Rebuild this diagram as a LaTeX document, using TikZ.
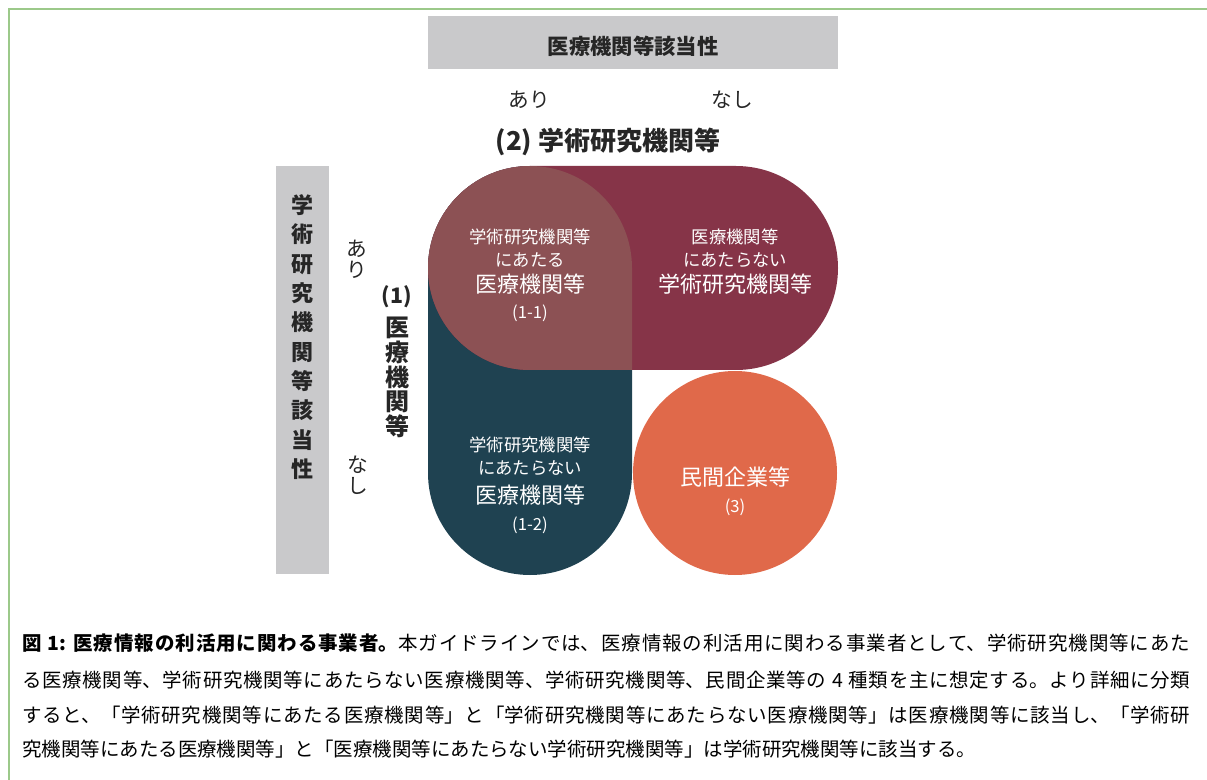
\documentclass[tikz,border=0pt]{standalone}
\usepackage{fontspec}
\setmainfont{Noto Sans CJK JP}
\XeTeXlinebreaklocale "ja"
\XeTeXlinebreakskip=0pt plus 3pt

\definecolor{framegreen}{HTML}{9CC98A}
\definecolor{barg}{HTML}{C9C9CB}
\definecolor{labk}{HTML}{262626}
\definecolor{medteal}{HTML}{1F4251}
\definecolor{acadred}{HTML}{863448}
\definecolor{bothred}{HTML}{8C5154}
\definecolor{privor}{HTML}{E0694A}

\newcommand{\capline}[1]{\parbox{876pt}{\parfillskip=0pt\spaceskip=0.3em\relax\noindent #1}}

\begin{document}
\begin{tikzpicture}[x=0.75pt,y=-0.75pt,
  lbl/.style={text=labk, inner sep=0pt, align=center},
  inw/.style={text=white, inner sep=0pt, align=center},
  smallw/.style={inw, font=\fontsize{13}{13}\selectfont},
  bigw/.style={inw, font=\fontsize{16.5}{16.5}\selectfont},
  numw/.style={inw, font=\fontsize{12.5}{12.5}\selectfont},
  capt/.style={anchor=west, inner sep=0pt, font=\fontsize{14.6}{14.6}\selectfont}]

\useasboundingbox (0,0) rectangle (1207,780);

% frame
\draw[framegreen, line width=1.5pt] (8.5,780) -- (8.5,9.5) -- (1207,9.5);

% column header
\fill[barg] (428,16) rectangle (838,69);
\node[lbl, font=\fontsize{16}{16}\selectfont\bfseries] (colhead) at (633,46) {医療機関等該当性};
\node[lbl, font=\fontsize{15.5}{15.5}\selectfont] (colyes) at (529,100) {あり};
\node[lbl, font=\fontsize{15.5}{15.5}\selectfont] (colno) at (732,100) {なし};
\node[lbl, font=\fontsize{19.5}{19.5}\selectfont\bfseries] (acad) at (608,142) {(2) 学術研究機関等};

% row header
\fill[barg] (276,166) rectangle (329,574);
\node[lbl, font=\fontsize{16.5}{22}\selectfont\bfseries] (rowhead) at (302,337)
  {学\\術\\研\\究\\機\\関\\等\\該\\当\\性};
\node[lbl, font=\fontsize{15.5}{15.75}\selectfont] (rowyes) at (357,259.5) {あ\\り};
\node[lbl, font=\fontsize{15.5}{15.75}\selectfont] (rowno) at (358,475.5) {な\\し};
\node[lbl, font=\fontsize{16}{16}\selectfont\bfseries] (medno) at (397,297) {(1)};
\node[lbl, font=\fontsize{18}{18.6}\selectfont\bfseries] (med) at (397,377.5)
  {医\\療\\機\\関\\等};

% shapes
\fill[medteal, rounded corners=76.5pt] (428,166) rectangle (632,575);
\fill[acadred, rounded corners=76.5pt] (428,166) rectangle (838,370);
\begin{scope}
  \clip[rounded corners=76.5pt] (428,166) rectangle (838,370);
  \fill[bothred, rounded corners=76.5pt] (428,166) rectangle (632,575);
\end{scope}
\node[circle, fill=privor, minimum size=153pt, inner sep=0pt] (priv) at (735,473) {};

% (1-1)
\node[smallw] (both1) at (530,237) {学術研究機関等};
\node[smallw] (both2) at (530,260) {にあたる};
\node[bigw] (both3) at (530,284) {医療機関等};
\node[numw] (both4) at (530,313) {(1-1)};
% academic only
\node[smallw] (acad1) at (735,237) {医療機関等};
\node[smallw] (acad2) at (735,260) {にあたらない};
\node[bigw] (acad3) at (735,284) {学術研究機関等};
% (1-2)
\node[smallw] (med1) at (530,445) {学術研究機関等};
\node[smallw] (med2) at (530,468) {にあたらない};
\node[bigw] (med3) at (530,495) {医療機関等};
\node[numw] (med4) at (530,525) {(1-2)};
% (3)
\node[bigw] (priv1) at (735,477) {民間企業等};
\node[numw] (priv2) at (735,507) {(3)};

% caption
\node[capt] (cap1) at (22,643) {\capline{{\bfseries 図 1: 医療情報の利活用に関わる事業者。}本ガイドラインでは、医療情報の利活用に関わる事業者として、学術研究機関等にあた}};
\node[capt] (cap2) at (22,680) {\capline{る医療機関等、学術研究機関等にあたらない医療機関等、学術研究機関等、民間企業等の 4 種類を主に想定する。より詳細に分類}};
\node[capt] (cap3) at (22,715) {\capline{すると、「学術研究機関等にあたる医療機関等」と「学術研究機関等にあたらない医療機関等」は医療機関等に該当し、「学術研}};
\node[capt] (cap4) at (22,749) {究機関等にあたる医療機関等」と「医療機関等にあたらない学術研究機関等」は学術研究機関等に該当する。};
\end{tikzpicture}
\end{document}
